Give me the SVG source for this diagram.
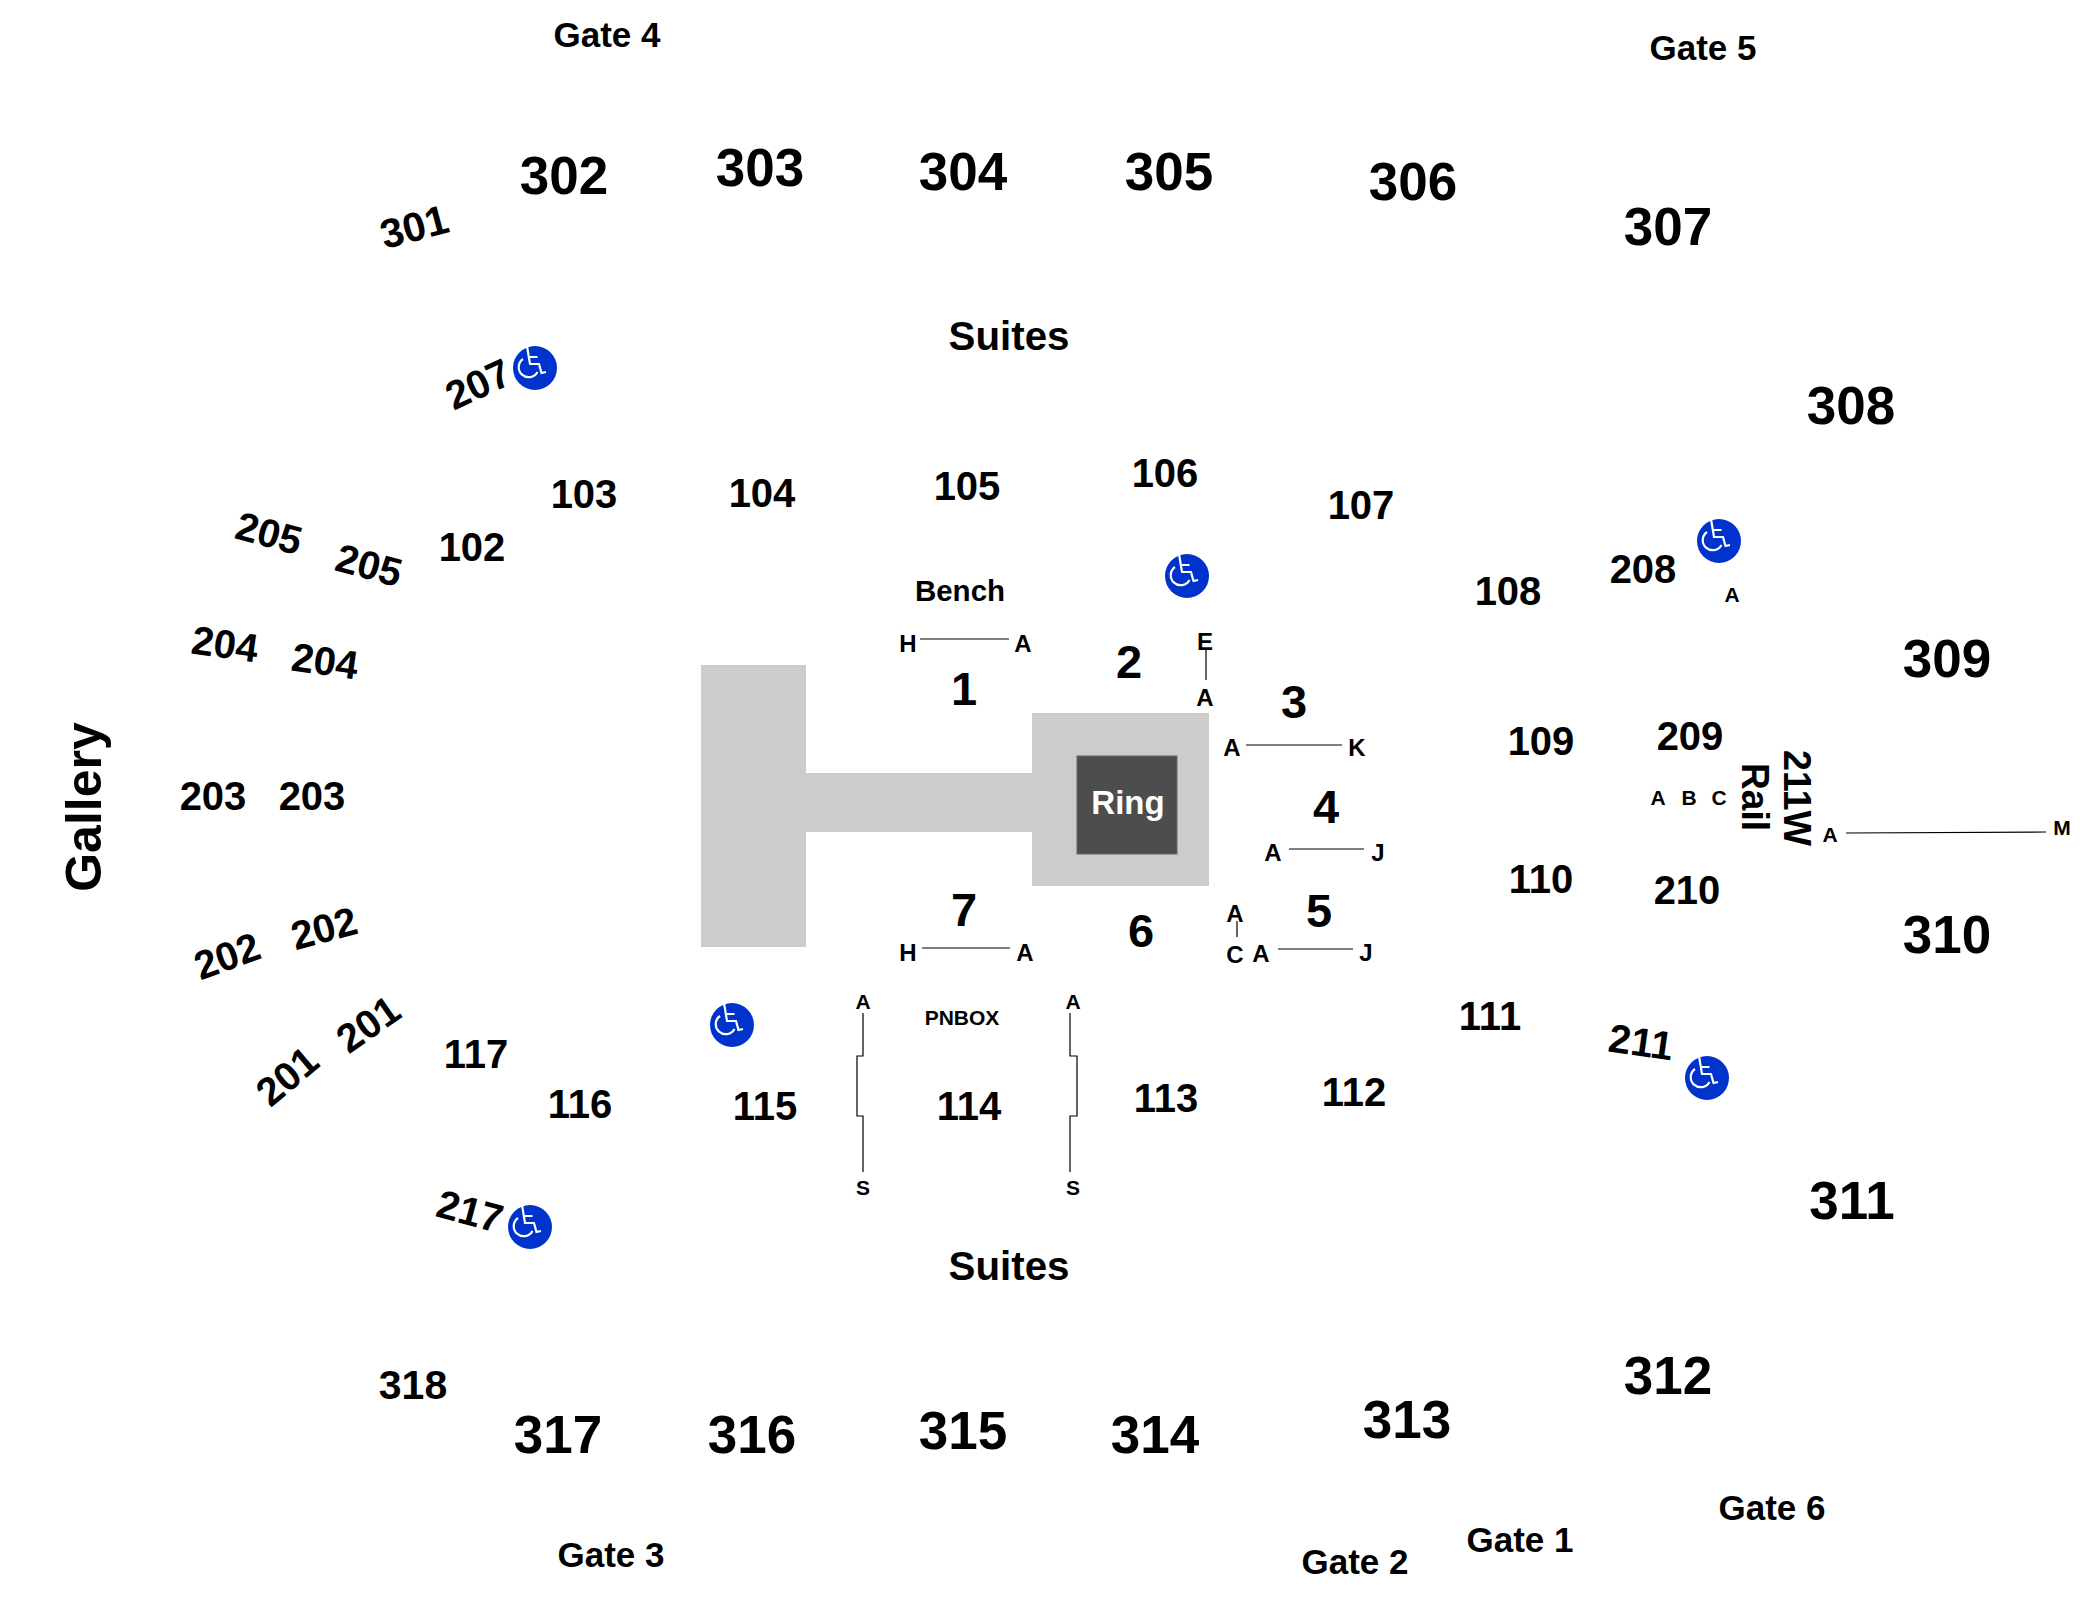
<svg xmlns="http://www.w3.org/2000/svg" width="2100" height="1600" viewBox="0 0 2100 1600">
<style>
text{font-family:"Liberation Sans",Arial,sans-serif;font-weight:700;fill:#000;text-anchor:middle}
.x{font-size:53px}.m{font-size:41px}.l{font-size:40px}.g{font-size:35px}.c{font-size:47px}.s{font-size:24px}.t{font-size:21px}
.ln{fill:none;stroke:#000;stroke-width:1.2}
</style>
<defs>
<g id="wc"><circle r="22" fill="#0033cc"/><path d="M-8-22L-5-4H4L6.500 5L11 4M-5-11H2.500M-12-9A10 10 0 1 0 2.500 4" fill="none" stroke="#fff" stroke-width="2.200"/></g>
</defs>
<rect width="2100" height="1600" fill="#fff"/>
<g id="floor">
<path d="M701 665H806V773H1032V713H1209V886H1032V832H806V947H701Z" fill="#ccc"/>
<rect x="1077" y="756" width="100" height="98" fill="#4d4d4d" stroke="#666"/>
<text x="1128" y="814" style="fill:#fff;font-size:33px">Ring</text>
</g>
<g id="connectors">
<path class="ln" d="M920 639H1009M1206 650V680M1246 745H1342M1289 849H1364M1237 921V937M1278 949H1353M922 948H1010M1846 833L2046 832M863 1013V1056H857V1116H863V1172M1070 1013V1056H1077V1116H1070V1172"/>
</g>
<g id="gates">
<text class="g" x="607" y="47">Gate 4</text><text class="g" x="1703" y="60">Gate 5</text><text class="g" x="611" y="1567">Gate 3</text><text class="g" x="1355" y="1574">Gate 2</text><text class="g" x="1520" y="1552">Gate 1</text><text class="g" x="1772" y="1520">Gate 6</text>
</g>
<g id="sections-300">
<text class="x" x="564" y="194">302</text><text class="x" x="760" y="186">303</text><text class="x" x="963" y="190">304</text><text class="x" x="1169" y="190">305</text><text class="x" x="1413" y="200">306</text><text class="x" x="1668" y="245">307</text><text class="x" x="1851" y="424">308</text><text class="x" x="1947" y="677">309</text><text class="x" x="1947" y="953">310</text><text class="x" x="1852" y="1219">311</text><text class="x" x="1668" y="1394">312</text><text class="x" x="1407" y="1438">313</text><text class="x" x="1155" y="1453">314</text><text class="x" x="963" y="1449">315</text><text class="x" x="752" y="1453">316</text><text class="x" x="558" y="1453">317</text>
<text class="m" x="413" y="1399">318</text>
<text class="m" transform="translate(414 226) rotate(-15)" y="15">301</text>
</g>
<g id="labels">
<text x="1009" y="350" style="font-size:40.300px">Suites</text><text x="1009" y="1280" style="font-size:40.300px">Suites</text>
<text x="960" y="601" style="font-size:29.500px">Bench</text>
<text style="font-size:50px" transform="translate(84 807) rotate(-90)" y="17">Gallery</text>
<text class="t" x="962" y="1025">PNBOX</text>
<text transform="translate(1742 797) rotate(90)" style="font-size:39px" textLength="68" lengthAdjust="spacingAndGlyphs">Rail</text>
<text transform="translate(1784 798) rotate(90)" style="font-size:39px" textLength="96" lengthAdjust="spacingAndGlyphs">211W</text>
</g>
<g id="sections-100">
<text class="l" x="584" y="508">103</text><text class="l" x="762" y="507">104</text><text class="l" x="967" y="500">105</text><text class="l" x="1165" y="487">106</text><text class="l" x="1361" y="519">107</text><text class="l" x="1508" y="605">108</text><text class="l" x="1541" y="755">109</text><text class="l" x="1541" y="893">110</text><text class="l" x="1490" y="1030">111</text><text class="l" x="1354" y="1106">112</text><text class="l" x="1166" y="1112">113</text><text class="l" x="969" y="1120">114</text><text class="l" x="765" y="1120">115</text><text class="l" x="580" y="1118">116</text><text class="l" x="476" y="1068">117</text><text class="l" x="472" y="561">102</text>
<text class="l" x="1643" y="583">208</text><text class="l" x="1690" y="750">209</text><text class="l" x="1687" y="904">210</text>
</g>
<g id="sections-200">
<text class="l" transform="translate(478 384) rotate(-25)" y="14">207</text>
<text class="l" transform="translate(269 533) rotate(15)" y="14">205</text>
<text class="l" transform="translate(369 565) rotate(15)" y="14">205</text>
<text class="l" transform="translate(225 644) rotate(8)" y="14">204</text>
<text class="l" transform="translate(325 661) rotate(8)" y="14">204</text>
<text class="l" x="213" y="810">203</text><text class="l" x="312" y="810">203</text>
<text class="l" transform="translate(227 956) rotate(-20)" y="14">202</text>
<text class="l" transform="translate(324 928) rotate(-15)" y="14">202</text>
<text class="l" transform="translate(287 1076) rotate(-40)" y="14">201</text>
<text class="l" transform="translate(368 1024) rotate(-35)" y="14">201</text>
<text class="l" transform="translate(470 1211) rotate(15)" y="14">217</text>
<text class="l" transform="translate(1641 1042) rotate(8)" y="14">211</text>
</g>
<g id="rows-floor">
<text class="c" x="964" y="705">1</text><text class="c" x="1129" y="678">2</text><text class="c" x="1294" y="718">3</text><text class="c" x="1326" y="823">4</text><text class="c" x="1319" y="927">5</text><text class="c" x="1141" y="947">6</text><text class="c" x="964" y="926">7</text>
<text class="s" x="908" y="652">H</text><text class="s" x="1023" y="652">A</text><text class="s" x="1205" y="650">E</text><text class="s" x="1205" y="706">A</text><text class="s" x="1232" y="756">A</text><text class="s" x="1357" y="756">K</text><text class="s" x="1273" y="861">A</text><text class="s" x="1378" y="861">J</text><text class="s" x="1235" y="922">A</text><text class="s" x="1235" y="963">C</text><text class="s" x="1261" y="962">A</text><text class="s" x="1366" y="961">J</text><text class="s" x="908" y="961">H</text><text class="s" x="1025" y="961">A</text>
<text class="t" x="863" y="1009">A</text><text class="t" x="863" y="1195">S</text><text class="t" x="1073" y="1009">A</text><text class="t" x="1073" y="1195">S</text>
<text class="t" x="1732" y="602">A</text><text class="t" x="1658" y="805">A</text><text class="t" x="1689" y="805">B</text><text class="t" x="1719" y="805">C</text><text class="t" x="1830" y="842">A</text><text class="t" x="2062" y="835">M</text>
</g>
<g id="accessibility">
<use href="#wc" x="535" y="368"/><use href="#wc" x="1187" y="576"/><use href="#wc" x="1719" y="541"/><use href="#wc" x="732" y="1025"/><use href="#wc" x="1707" y="1078"/><use href="#wc" x="530" y="1227"/>
</g>
</svg>
